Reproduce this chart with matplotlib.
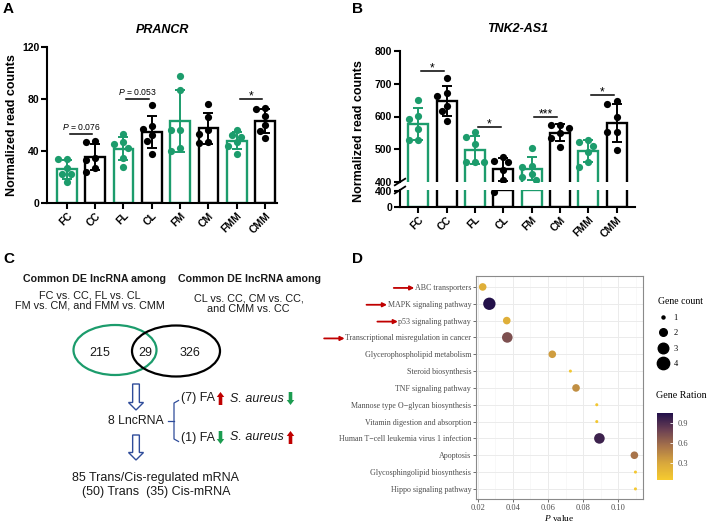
import numpy as np
import matplotlib
matplotlib.use('Agg')
import matplotlib.pyplot as plt
import matplotlib.patches as mpatches
from matplotlib.colors import LinearSegmentedColormap, Normalize
from matplotlib.cm import ScalarMappable
from matplotlib.lines import Line2D

plt.rcParams['font.family'] = ['Liberation Sans', 'DejaVu Sans']
plt.rcParams['mathtext.fontset'] = 'custom'
plt.rcParams['mathtext.sf'] = 'Liberation Sans:italic'
plt.rcParams['mathtext.it'] = 'Liberation Serif:italic'

GREEN = '#1c9c6c'
NAVY = '#2f4c9a'

# ---------------- data: panels A and B
groups = ['FC', 'CC', 'FL', 'CL', 'FM', 'CM', 'FMM', 'CMM']
group_colors = [GREEN, 'black'] * 4

prancr = [
    [34, 34, 27, 22, 22, 16],
    [48, 47, 35, 33, 27, 24],
    [53, 47, 45, 42, 35, 28],
    [75, 59, 57, 52, 48, 38],
    [98, 87, 56, 56, 42, 40],
    [76, 66, 56, 53, 47, 46],
    [56, 52, 51, 47, 44, 38],
    [73, 72, 67, 60, 55, 50],
]
tnk2 = [
    [651, 603, 591, 563, 527, 527],
    [717, 673, 663, 632, 616, 586],
    [553, 538, 515, 462, 460, 460],
    [476, 465, 460, 438, 405, 390],
    [503, 448, 445, 425, 415, 405],
    [575, 573, 565, 550, 535, 507],
    [529, 522, 510, 492, 461, 446],
    [647, 639, 598, 553, 553, 497],
]
# (first group of the pair, label, height of the line)
prancr_sig = [(0, r'$\mathsf{P}$ = 0.076', 53), (2, r'$\mathsf{P}$ = 0.053', 80), (6, '*', 80)]
tnk2_sig = [(0, '*', 739), (2, '*', 568), (4, '***', 598), (6, '*', 667)]

# ---------------- data: panel D
pathways = ['ABC transporters', 'MAPK signaling pathway', 'p53 signaling pathway',
            'Transcriptional misregulation in cancer', 'Glycerophospholipid metabolism',
            'Steroid biosynthesis', 'TNF signaling pathway',
            'Mannose type O\u2212glycan biosynthesis', 'Vitamin digestion and absorption',
            'Human T\u2212cell leukemia virus 1 infection', 'Apoptosis',
            'Glycosphingolipid biosynthesis', 'Hippo signaling pathway']
p_values = [0.0228, 0.0266, 0.0365, 0.0368, 0.0624, 0.0727, 0.0759,
            0.0877, 0.0877, 0.0892, 0.1091, 0.1097, 0.1097]
gene_count = [2, 4, 2, 3, 2, 1, 2, 1, 1, 3, 2, 1, 1]
gene_ratio = [0.25, 1.04, 0.25, 0.72, 0.35, 0.08, 0.42, 0.08, 0.08, 0.95, 0.55, 0.08, 0.07]
highlighted = 4  # first four pathways get a red arrow

W, H = 709, 522
fig = plt.figure(figsize=(W / 100, H / 100), dpi=100)


def px_rect(l, t, r, b):
    return [l / W, 1 - b / H, (r - l) / W, (b - t) / H]


def swarm(vals, px_x, px_y, d=6.6):
    # simple beeswarm: spread points sideways when they would overlap
    vals = np.asarray(vals, float)
    offs = np.zeros(len(vals))
    placed = []
    for i in np.argsort(vals)[::-1]:
        y = vals[i] * px_y
        for k in [0, -1, 1, -2, 2]:
            x = k * d * 0.7
            if all((x - px) ** 2 + (y - py) ** 2 >= (1.05 * d) ** 2 for px, py in placed):
                break
        placed.append((x, y))
        offs[i] = x / px_x
    return offs


def bar_panel(ax, data, px_y, err=True, keep=lambda v: True):
    x = np.arange(len(groups))
    for i in x:
        vals = np.array(data[i])
        m, sd = vals.mean(), vals.std(ddof=1)
        c = group_colors[i]
        ax.bar(i, m, width=0.7, facecolor='white', edgecolor=c, linewidth=1.7, zorder=2)
        if err:
            ax.errorbar(i, m, yerr=sd, fmt='none', ecolor=c, elinewidth=1.4,
                        capsize=3.6, capthick=1.4, zorder=3)
        offs = swarm(vals, 28.3, px_y)
        sel = np.array([keep(v) for v in vals])
        ax.plot(i + offs[sel], vals[sel], 'o', color=c, ms=5.2, mec='none', zorder=4)


def style_axis(ax):
    for s in ['top', 'right']:
        ax.spines[s].set_visible(False)
    for s in ['left', 'bottom']:
        ax.spines[s].set_linewidth(1.5)
    ax.tick_params(width=1.5, length=4, labelsize=7.5, pad=1.5)
    for lbl in ax.get_yticklabels() + ax.get_xticklabels():
        lbl.set_fontweight('bold')


def xlabels(ax):
    ax.set_xticks(np.arange(len(groups)))
    ax.set_xticklabels(groups, rotation=45, ha='right', rotation_mode='anchor',
                       fontsize=7.5, fontweight='bold')


def sig_marks(ax, sigs):
    for g, txt, h in sigs:
        ax.plot([g + 0.1, g + 0.9], [h, h], color='black', lw=1.1, zorder=5)
        is_star = txt.startswith('*')
        ax.annotate(txt, (g + 0.5, h), xytext=(0, -2.5 if is_star else 1.5),
                    textcoords='offset points', ha='center', va='bottom',
                    fontsize=8.8 if is_star else 6.2)


# ---------------- panel A
axa = fig.add_axes(px_rect(47, 47, 277, 203))
bar_panel(axa, prancr, 1.3)
axa.set_xlim(-0.7, 7.42)
axa.set_ylim(0, 120)
axa.set_yticks([0, 40, 80, 120])
xlabels(axa)
style_axis(axa)
sig_marks(axa, prancr_sig)
axa.set_ylabel('Normalized read counts', fontsize=9, fontweight='bold', labelpad=3)
axa.set_title('PRANCR', fontsize=9, fontweight='bold', style='italic', pad=10)

# ---------------- panel B (broken axis)
axb = fig.add_axes(px_rect(400, 51, 635, 182))
axb2 = fig.add_axes(px_rect(400, 190, 635, 207))
bar_panel(axb, tnk2, 0.3275, keep=lambda v: v >= 400)
bar_panel(axb2, tnk2, 0.3275, err=False, keep=lambda v: v < 400)
for ax in (axb, axb2):
    ax.set_xlim(-0.65, 7.65)
axb.set_ylim(400, 800)
axb.set_yticks([400, 500, 600, 700, 800])
axb.set_xticks([])
axb2.set_ylim(0, 430)
axb2.set_yticks([0, 400])
xlabels(axb2)
style_axis(axb)
style_axis(axb2)
axb.spines['bottom'].set_visible(False)
sig_marks(axb, tnk2_sig)
axb.set_title('TNK2-AS1', fontsize=9, fontweight='bold', style='italic', pad=14)
fig.text(359 / W, 1 - 131 / H, 'Normalized read counts', rotation=90, ha='center',
         va='center', fontsize=9, fontweight='bold')
# break marks
kw = dict(color='black', lw=1.3, clip_on=False, zorder=6)
axb.plot([-0.022, 0.022], [-0.025, 0.025], transform=axb.transAxes, **kw)
axb2.plot([-0.022, 0.022], [0.8, 1.2], transform=axb2.transAxes, **kw)

# ---------------- panel C (schematic, drawn in pixel units)
axc = fig.add_axes(px_rect(0, 261, 347, 522))
axc.set_xlim(0, 347)
axc.set_ylim(522, 261)
axc.axis('off')
tc = '#1a1a1a'
axc.text(95, 279, 'Common DE lncRNA among', ha='center', va='center', fontsize=7.7,
         fontweight='bold', color=tc)
axc.text(250, 279, 'Common DE lncRNA among', ha='center', va='center', fontsize=7.7,
         fontweight='bold', color=tc)
axc.text(90, 300.5, 'FC vs. CC, FL vs. CL\nFM vs. CM, and FMM vs. CMM', ha='center',
         va='center', fontsize=7.8, color=tc, linespacing=1.1)
axc.text(248.5, 304, 'CL vs. CC, CM vs. CC,\nand CMM vs. CC', ha='center', va='center',
         fontsize=7.8, color=tc, linespacing=1.1)
axc.add_patch(mpatches.Ellipse((115, 350), 83, 50, fill=False, ec=GREEN, lw=1.6))
axc.add_patch(mpatches.Ellipse((176, 351), 88, 51, fill=False, ec='black', lw=1.6))
for x, s in [(100, '215'), (145, '29'), (190.5, '326')]:
    axc.text(x, 352.5, s, ha='center', va='center', fontsize=9, color=tc)
for y0, y1 in [(384, 410), (435, 460)]:
    axc.add_patch(mpatches.FancyArrow(136, y0, 0, y1 - y0, width=6.7, head_width=15,
                                      head_length=7.5, length_includes_head=True,
                                      fc='white', ec=NAVY, lw=1))
axc.text(135.5, 421.5, '8 LncRNA', ha='center', va='center', fontsize=8.8, color=tc)
axc.plot([168, 174], [421, 421], color=NAVY, lw=0.9)
axc.plot([178.5, 174, 174, 178.5], [400.5, 403, 439, 441.5], color=NAVY, lw=0.9)
for y, first, second in [(398.5, 'up', 'down'), (437.5, 'down', 'up')]:
    n = '(7)' if first == 'up' else '(1)'
    axc.text(181.5, y, n + ' FA', ha='left', va='center', fontsize=9, color=tc)
    axc.text(230, y, 'S. aureus', ha='left', va='center', fontsize=9, style='italic', color=tc)
    for x, d in [(220.5, first), (290.5, second)]:
        col = '#c00000' if d == 'up' else '#1c9c50'
        ys, dy = (y + 6.5, -13) if d == 'up' else (y - 6.5, 13)
        axc.add_patch(mpatches.FancyArrow(x, ys, 0, dy, width=3.6, head_width=7.5,
                                          head_length=5, length_includes_head=True,
                                          fc=col, ec='none'))
axc.text(156, 477.5, '85 Trans/Cis-regulated mRNA', ha='center', va='center',
         fontsize=9, color=tc)
axc.text(156, 492, '(50) Trans  (35) Cis-mRNA', ha='center', va='center',
         fontsize=9, color=tc)

# ---------------- panel D
cmap = LinearSegmentedColormap.from_list(
    'ratio', ['#f6cb2f', '#d9a83c', '#a8744a', '#6b4053', '#22104a'])
norm = Normalize(0.05, 1.045)
size_map = {1: 4.8, 2: 30, 3: 58, 4: 79}
serif = 'Liberation Serif'
grey = '#4d4d4d'

axd = fig.add_axes(px_rect(476, 276, 643, 499))
ypos = np.arange(len(pathways))[::-1]
axd.scatter(p_values, ypos, s=[size_map[c] for c in gene_count], c=gene_ratio,
            cmap=cmap, norm=norm, edgecolors='none', zorder=3)
axd.set_xlim(0.019, 0.114)
axd.set_ylim(-0.6, 12.65)
axd.set_yticks(ypos)
axd.set_yticklabels(pathways, family=serif, fontsize=5.8, color=grey)
axd.set_xticks([0.02, 0.04, 0.06, 0.08, 0.10])
axd.set_xticklabels(['0.02', '0.04', '0.06', '0.08', '0.10'], family=serif,
                    fontsize=6, color=grey)
axd.set_xticks([0.03, 0.05, 0.07, 0.09, 0.11], minor=True)
axd.grid(which='major', color='#ebebeb', lw=0.7)
axd.grid(which='minor', axis='x', color='#f3f3f3', lw=0.4)
axd.set_axisbelow(True)
axd.tick_params(which='major', length=2, width=0.5, color='#333333', pad=1.5)
axd.tick_params(which='minor', length=0)
for s in axd.spines.values():
    s.set_color('#8a8a8a')
    s.set_linewidth(0.8)
axd.set_xlabel(r'$\it{P}$ value', family=serif, fontsize=6.8, labelpad=1)

handles = [Line2D([], [], marker='o', ls='', color='black', markersize=np.sqrt(size_map[k]),
                  label=str(k)) for k in sorted(size_map)]
leg = axd.legend(handles=handles, title='Gene count', loc='upper left',
                 bbox_to_anchor=(655 / W, 1 - 294 / H), bbox_transform=fig.transFigure,
                 frameon=False, handlelength=1.2, handletextpad=0.6, labelspacing=0.9,
                 borderaxespad=0, alignment='left',
                 prop={'family': serif, 'size': 6}, title_fontproperties={'family': serif, 'size': 7})

cax = fig.add_axes(px_rect(657, 413, 673, 480))
cb = fig.colorbar(ScalarMappable(norm=norm, cmap=cmap), cax=cax, ticks=[0.3, 0.6, 0.9])
cb.outline.set_visible(False)
cax.tick_params(length=2.5, width=0.6, color='white', direction='in', pad=3)
for lbl in cax.get_yticklabels():
    lbl.set_family(serif)
    lbl.set_fontsize(6)
    lbl.set_color(grey)
fig.text(656 / W, 1 - 395 / H, 'Gene Ration', family=serif, fontsize=7.2, va='center')

# red arrows in front of the highlighted pathway labels
fig.canvas.draw()
for lbl in axd.get_yticklabels()[:highlighted]:
    bb = lbl.get_window_extent()
    yc = (bb.y0 + bb.y1) / 2
    axd.annotate('', xy=(bb.x0 - 0.5, yc), xytext=(bb.x0 - 21, yc), xycoords='figure pixels',
                 textcoords='figure pixels',
                 arrowprops=dict(arrowstyle='-|>', color='#c00000', lw=1.3, mutation_scale=6,
                                 shrinkA=0, shrinkB=0))

# ---------------- panel letters
for x, y, s in [(3, 2, 'A'), (352, 2, 'B'), (3, 252, 'C'), (352, 252, 'D')]:
    fig.text(x / W, 1 - y / H, s, fontsize=11, fontweight='bold', va='top', ha='left')

fig.savefig('out.png', dpi=100)
